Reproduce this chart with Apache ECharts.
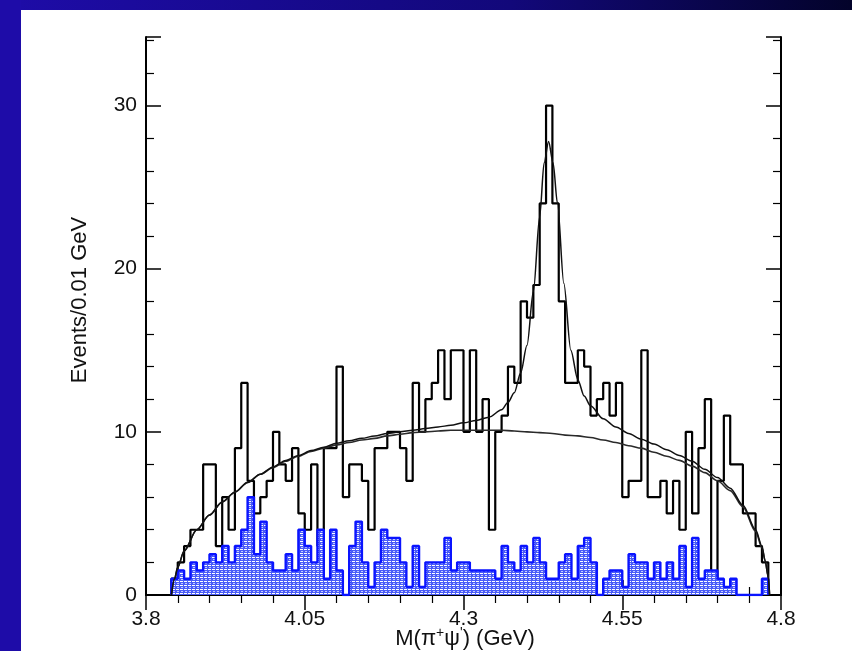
<!DOCTYPE html>
<html>
<head>
<meta charset="utf-8">
<title>M(π+ψ') distribution</title>
<script src="https://cdn.jsdelivr.net/npm/echarts@6/dist/echarts.min.js"></script>
<style>
  html, body { margin: 0; padding: 0; background: #ffffff; }
  #chart { width: 852px; height: 651px; }
</style>
</head>
<body>
<div id="chart"></div>
<script>
// Histogram binning: 100 bins of 0.01 GeV from 3.80 GeV
const binStart = 3.80;
const binWidth = 0.01;
// Kinematically allowed bins (first and last filled bin index)
const firstBin = 4;
const lastBin = 97;

// Selected events per 0.01 GeV
const eventCounts = [
  0, 0, 0, 0, 1, 2, 3, 4, 4, 8,
  8, 3, 6, 4, 9, 13, 7, 5, 6, 7,
  10, 8, 7, 9, 5, 4, 8, 3, 9, 9,
  14, 6, 8, 8, 7, 4, 9, 9, 10, 10,
  9, 7, 13, 10, 12, 13, 15, 12, 15, 15,
  10, 15, 10, 12, 4, 10, 11, 14, 13, 18,
  17, 19, 24, 30, 24, 18, 13, 13, 15, 14,
  11, 12, 13, 11, 13, 6, 7, 7, 15, 6,
  6, 7, 5, 7, 4, 10, 5, 9, 12, 1,
  7, 11, 8, 8, 5, 5, 3, 2, 0, 0
];

// Scaled sideband (background) events per 0.01 GeV
const sidebandCounts = [
  0, 0, 0, 0, 1, 1.5, 1, 2, 1.5, 2,
  2.5, 2, 3, 2, 3, 4, 6, 2.5, 4.5, 2,
  1.5, 1.5, 2.5, 1.5, 4, 3, 2, 4, 1, 4,
  1.5, 0, 3, 4.5, 2, 0.5, 2, 4, 3.5, 3.5,
  2, 0.5, 3, 0.5, 2, 2, 2, 3.5, 1.5, 2,
  2, 1.5, 1.5, 1.5, 1.5, 1, 3, 2, 1.5, 3,
  2, 3.5, 2, 1, 1, 2, 2.5, 1, 3, 3.5,
  2, 0, 1, 1.5, 1.5, 0.5, 2.5, 2, 2, 1,
  2, 1, 2, 1, 3, 0.5, 3.5, 1, 1.5, 1.5,
  1, 0.5, 1, 0, 0, 0, 0, 1, 0, 0
];

// Background component of the fit
const bgMass  = [3.84, 3.845, 3.85, 3.86, 3.88, 3.90, 3.92, 3.94, 3.96, 3.98, 4.00, 4.02, 4.04, 4.06, 4.08, 4.10, 4.12, 4.14, 4.16, 4.18, 4.20, 4.22, 4.24, 4.26, 4.28, 4.30, 4.32, 4.34, 4.36, 4.38, 4.40, 4.42, 4.44, 4.46, 4.48, 4.50, 4.52, 4.54, 4.56, 4.58, 4.60, 4.62, 4.64, 4.66, 4.68, 4.70, 4.72, 4.74, 4.76, 4.77, 4.775, 4.78, 4.782];
const bgValue = [0, 1.0, 1.7, 2.7, 4.0, 4.9, 5.7, 6.3, 6.9, 7.4, 7.8, 8.2, 8.5, 8.8, 9.0, 9.2, 9.35, 9.5, 9.6, 9.75, 9.85, 9.95, 10.0, 10.05, 10.1, 10.1, 10.1, 10.1, 10.1, 10.05, 10.0, 9.95, 9.9, 9.8, 9.75, 9.65, 9.5, 9.35, 9.15, 9.0, 8.75, 8.5, 8.25, 7.9, 7.5, 7.0, 6.4, 5.4, 3.9, 2.9, 2.1, 1.1, 0];

// Full fit: background plus resonance
const fitMass  = [3.84, 3.845, 3.85, 3.86, 3.88, 3.90, 3.92, 3.94, 3.96, 3.98, 4.00, 4.02, 4.04, 4.06, 4.08, 4.10, 4.12, 4.14, 4.16, 4.18, 4.20, 4.22, 4.24, 4.26, 4.28, 4.30, 4.32, 4.34, 4.36, 4.37, 4.38, 4.39, 4.40, 4.41, 4.42, 4.427, 4.434, 4.441, 4.448, 4.458, 4.469, 4.48, 4.49, 4.50, 4.52, 4.54, 4.56, 4.58, 4.60, 4.62, 4.64, 4.66, 4.68, 4.70, 4.72, 4.74, 4.76, 4.77, 4.775, 4.78, 4.782];
const fitValue = [0, 1.0, 1.7, 2.7, 4.0, 4.9, 5.7, 6.3, 6.9, 7.4, 7.85, 8.25, 8.55, 8.85, 9.05, 9.3, 9.45, 9.6, 9.75, 9.9, 10.0, 10.1, 10.2, 10.3, 10.4, 10.55, 10.7, 10.9, 11.35, 11.8, 12.4, 13.6, 15.3, 18.6, 23.2, 26.5, 27.8, 26.5, 24.0, 19.1, 15.0, 13.2, 12.2, 11.6, 10.8, 10.3, 9.9, 9.55, 9.25, 8.9, 8.55, 8.2, 7.7, 7.2, 6.55, 5.5, 4.0, 3.0, 2.1, 1.1, 0];

// Axis ticks
const xTickLabels = ['3.8', '4.05', '4.3', '4.55', '4.8'];
const yTickLabels = ['0', '10', '20', '30'];

// Step outline over the filled bins: left-edge points, closed to zero at both ends
function stepPoints(counts) {
  const edge = (k) => Number((binStart + k * binWidth).toFixed(2));
  const pts = [[edge(firstBin), 0]];
  for (let k = firstBin; k <= lastBin; k++) pts.push([edge(k), counts[k]]);
  pts.push([edge(lastBin + 1), counts[lastBin]]);
  pts.push([edge(lastBin + 1), 0]);
  return pts;
}

function pairs(xs, ys) {
  return xs.map((x, i) => [x, ys[i]]);
}

// Dotted blue fill for the sideband histogram
function hatchCanvas() {
  const c = document.createElement('canvas');
  c.width = 4; c.height = 4;
  const g = c.getContext('2d');
  g.fillStyle = '#4a5cf8';
  g.fillRect(0, 0, 4, 4);
  g.fillStyle = '#ffffff';
  g.fillRect(0, 1, 3, 1);
  g.fillStyle = '#c4cbff';
  g.fillRect(1, 3, 2, 1);
  return c;
}

const FONT = '"Liberation Sans", Arial, Helvetica, sans-serif';
const chart = echarts.init(document.getElementById('chart'), null, { renderer: 'canvas' });

const frameAxisCommon = {
  type: 'value',
  axisLine: { show: true, lineStyle: { color: '#000', width: 2 } },
  splitLine: { show: false },
  axisTick: { show: true, inside: true, length: 15, lineStyle: { color: '#000', width: 1.5 } },
  minorTick: { show: true, splitNumber: 5, length: 8, lineStyle: { color: '#000', width: 1.2 } },
  minorSplitLine: { show: false }
};

const option = {
  animation: false,
  backgroundColor: '#ffffff',
  graphic: [
    {
      type: 'rect', z: 0, silent: true,
      shape: { x: 0, y: 0, width: 852, height: 10 },
      style: {
        fill: new echarts.graphic.LinearGradient(0, 0, 1, 0, [
          { offset: 0, color: '#1e0ca8' },
          { offset: 0.6, color: '#12087a' },
          { offset: 1, color: '#03032a' }
        ])
      }
    },
    {
      type: 'rect', z: 0, silent: true,
      shape: { x: 0, y: 0, width: 21, height: 651 },
      style: { fill: '#1e0ca8' }
    },
    {
      // Vertical axis title
      type: 'text', z: 10, silent: true,
      x: 80, y: 300, rotation: Math.PI / 2,
      style: {
        text: 'Events/0.01 GeV',
        font: '22px "Liberation Sans", Arial, Helvetica, sans-serif',
        fill: '#111', align: 'center', verticalAlign: 'middle'
      }
    },
    {
      // Horizontal axis title
      type: 'text', z: 10, silent: true,
      x: 465, y: 639,
      style: {
        text: '{a|M(π}{s|+}{a|ψ}{s|\'}{a|) (GeV)}',
        align: 'center', verticalAlign: 'middle',
        rich: {
          a: { fontFamily: FONT, fontSize: 22, fill: '#111', lineHeight: 26 },
          s: { fontFamily: FONT, fontSize: 14, fill: '#111', lineHeight: 26, verticalAlign: 'top', padding: [0, 0, 9, 0] }
        }
      }
    }
  ],
  grid: { left: 146, right: 71, top: 37, bottom: 56, containLabel: false, outerBoundsMode: 'none' },
  xAxis: [
    Object.assign({}, frameAxisCommon, {
      position: 'bottom',
      min: 3.8, max: 4.8, interval: 0.25,
      axisLabel: {
        show: true, margin: 14, color: '#111', fontFamily: FONT, fontSize: 21,
        formatter: (v) => {
          const i = Math.round((v - 3.8) / 0.25);
          return xTickLabels[i] !== undefined ? xTickLabels[i] : '';
        }
      }
    }),
    Object.assign({}, frameAxisCommon, {
      position: 'top',
      min: 3.8, max: 4.8, interval: 0.25,
      axisLabel: { show: false }
    })
  ],
  yAxis: [
    Object.assign({}, frameAxisCommon, {
      position: 'left',
      min: 0, max: 34.2, interval: 10,
      axisLabel: {
        show: true, margin: 9, color: '#111', fontFamily: FONT, fontSize: 21,
        showMaxLabel: false,
        formatter: (v) => {
          const i = Math.round(v / 10);
          return (Math.abs(v - i * 10) < 1e-6 && yTickLabels[i] !== undefined) ? yTickLabels[i] : '';
        }
      }
    }),
    Object.assign({}, frameAxisCommon, {
      position: 'right',
      min: 0, max: 34.2, interval: 10,
      axisLabel: { show: false }
    })
  ],
  series: [
    {
      name: 'events',
      type: 'line',
      step: 'end',
      xAxisIndex: 0, yAxisIndex: 0,
      data: stepPoints(eventCounts),
      showSymbol: false,
      lineStyle: { color: '#000', width: 2.2 },
      z: 3
    },
    {
      name: 'sideband',
      type: 'line',
      step: 'end',
      xAxisIndex: 0, yAxisIndex: 0,
      data: stepPoints(sidebandCounts),
      showSymbol: false,
      lineStyle: { color: '#0a14ff', width: 2.4 },
      areaStyle: { color: { image: hatchCanvas(), repeat: 'repeat' }, opacity: 1 },
      z: 4
    },
    {
      name: 'background fit',
      type: 'line',
      xAxisIndex: 0, yAxisIndex: 0,
      data: pairs(bgMass, bgValue),
      smooth: 0.3,
      smoothMonotone: 'x',
      showSymbol: false,
      lineStyle: { color: '#2a2a2a', width: 1.6 },
      z: 5
    },
    {
      name: 'total fit',
      type: 'line',
      xAxisIndex: 0, yAxisIndex: 0,
      data: pairs(fitMass, fitValue),
      smooth: 0.3,
      smoothMonotone: 'x',
      showSymbol: false,
      lineStyle: { color: '#111', width: 1.5 },
      z: 6
    }
  ]
};

chart.setOption(option);
</script>
</body>
</html>
